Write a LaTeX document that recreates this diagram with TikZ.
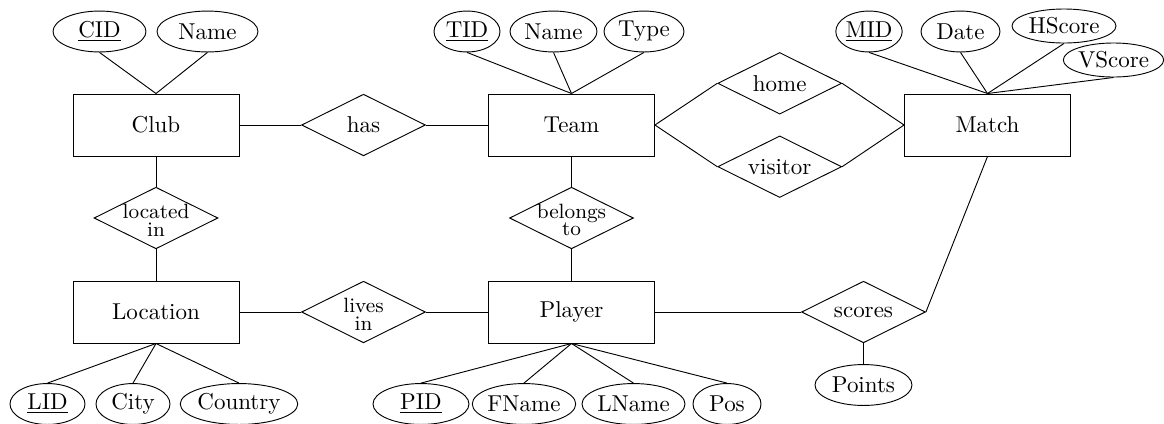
\documentclass[tikz,border=0pt]{standalone}
\usetikzlibrary{shapes.geometric}
\tikzset{
  entity/.style={draw, rectangle, minimum width=72.2pt, minimum height=27pt, inner sep=0pt},
  attr/.style={draw, ellipse, inner sep=0pt, minimum height=17.8pt},
  rel/.style={draw, diamond, inner sep=0pt, minimum width=53.9pt, minimum height=26.8pt},
  reltext/.style={inner sep=0pt, align=center},
  reltwo/.style={inner sep=0pt, align=center, font=\small},
}
\begin{document}
\begin{tikzpicture}[x=0.435pt, y=-0.435pt]
\useasboundingbox (0,0) rectangle (1164,423);
% entities
\node[entity] (club) at (156,125) {Club};
\node[entity] (team) at (571.5,125) {Team};
\node[entity] (match) at (987.5,125) {Match};
\node[entity] (location) at (156,312) {Location};
\node[entity] (player) at (571.5,312) {Player};
% relationships
\node[rel] (has) at (363.5,125) {};
\node[reltext] (hast) at (has) {has};
\node[rel] (home) at (779.7,83.3) {};
\node[reltext] (homet) at (home) {home};
\node[rel] (visitor) at (779.7,166.7) {};
\node[reltext] (visitort) at (visitor) {visitor};
\node[rel] (located) at (156,218) {};
\node[reltwo] (locatedt) at ([yshift=-1pt]located.center) {located\\[-3.5pt]in};
\node[rel] (belongs) at (571.5,218) {};
\node[reltwo] (belongst) at ([yshift=-1pt]belongs.center) {belongs\\[-3.5pt]to};
\node[rel] (lives) at (363.5,312) {};
\node[reltwo] (livest) at ([yshift=-1pt]lives.center) {lives\\[-3.5pt]in};
\node[rel] (scores) at (863.5,312) {};
\node[reltext] (scorest) at (scores) {scores};
% attributes
\node[attr, minimum width=93*0.435pt] (cid) at (99.5,31.5) {\underline{CID}};
\node[attr, minimum width=101*0.435pt] (cname) at (207.5,31.5) {Name};
\node[attr, minimum width=66*0.435pt] (tid) at (467,31.5) {\underline{TID}};
\node[attr, minimum width=87*0.435pt] (tname) at (553.5,31.5) {Name};
\node[attr, minimum width=80*0.435pt] (type) at (644,31.5) {Type};
\node[attr, minimum width=62*0.435pt] (mid) at (869,31.5) {\underline{MID}};
\node[attr, minimum width=79*0.435pt] (date) at (960.5,31.5) {Date};
\node[attr, minimum width=104*0.435pt, minimum height=14.8pt] (hscore) at (1064,26) {HScore};
\node[attr, minimum width=99*0.435pt, minimum height=14.8pt] (vscore) at (1113.5,60) {VScore};
\node[attr, minimum width=75*0.435pt] (lid) at (47.5,404) {\underline{LID}};
\node[attr, minimum width=74*0.435pt] (city) at (133,404) {City};
\node[attr, minimum width=112*0.435pt] (country) at (239,404) {Country};
\node[attr, minimum width=96*0.435pt] (pid) at (421,404) {\underline{PID}};
\node[attr, minimum width=98*0.435pt] (fname) at (524,404) {FName};
\node[attr, minimum width=103*0.435pt] (lname) at (633.5,404) {LName};
\node[attr, minimum width=68*0.435pt] (pos) at (727,404) {Pos};
\node[attr, minimum width=97*0.435pt] (points) at (863.5,385) {Points};
% attribute links
\draw (cid.south) -- (club.north);
\draw (cname.south) -- (club.north);
\draw (tid.south) -- (team.north);
\draw (tname.south) -- (team.north);
\draw (type.south) -- (team.north);
\draw (mid.south) -- (match.north);
\draw (date.south) -- (match.north);
\draw (hscore.south) -- (match.north);
\draw (vscore.south) -- (match.north);
\draw (location.south) -- (lid.north);
\draw (location.south) -- (city.north);
\draw (location.south) -- (country.north);
\draw (player.south) -- (pid.north);
\draw (player.south) -- (fname.north);
\draw (player.south) -- (lname.north);
\draw (player.south) -- (pos.north);
\draw (scores.south) -- (points.north);
% relationship links
\draw (club.east) -- (has.west);
\draw (has.east) -- (team.west);
\draw (team.east) -- (home.west);
\draw (team.east) -- (visitor.west);
\draw (home.east) -- (match.west);
\draw (visitor.east) -- (match.west);
\draw (club.south) -- (located.north);
\draw (located.south) -- (location.north);
\draw (team.south) -- (belongs.north);
\draw (belongs.south) -- (player.north);
\draw (location.east) -- (lives.west);
\draw (lives.east) -- (player.west);
\draw (player.east) -- (scores.west);
\draw (match.south) -- (scores.east);
\end{tikzpicture}
\end{document}
